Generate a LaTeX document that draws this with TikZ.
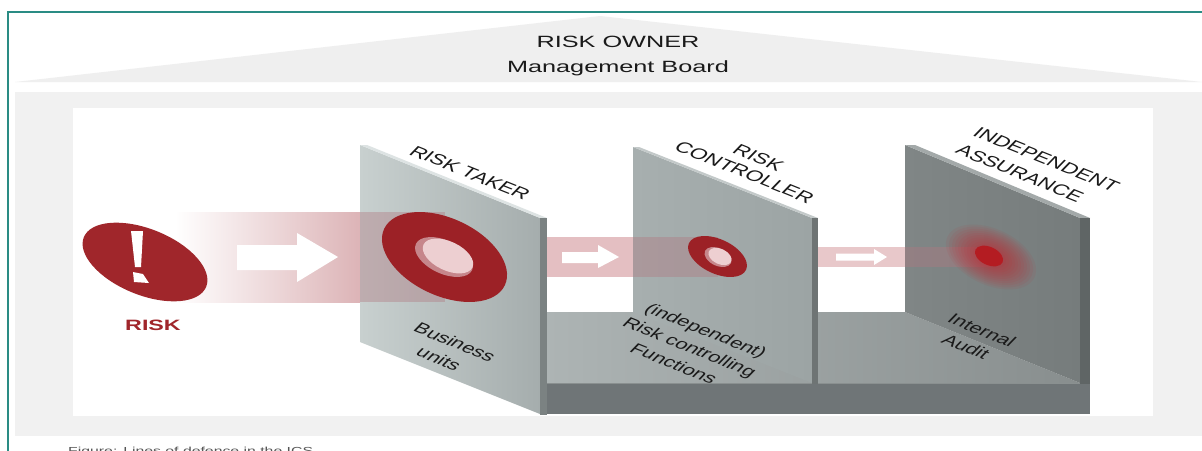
\documentclass[tikz,border=0pt]{standalone}
\usepackage{fontspec}
\setmainfont{Liberation Sans}
\usepackage{graphicx}
\newcommand{\mywide}[1]{\scalebox{1.55}[1]{#1}}
\newcommand{\mytilt}[1]{\scalebox{1.55}[1]{\rotatebox{-32}{#1}}}
\newcommand{\mylinesc}[1]{\begin{tabular}{@{}c@{}}#1\end{tabular}}
\newcommand{\mylinesl}[1]{\begin{tabular}{@{}l@{}}#1\end{tabular}}
\definecolor{teal1}{HTML}{2A8C84}
\definecolor{roofgray}{HTML}{EFEFEF}
\definecolor{panelgray}{HTML}{F1F1F1}
\definecolor{riskred}{HTML}{A0262B}
\definecolor{ringred}{HTML}{9C2126}
\definecolor{holelight}{HTML}{EDCFD1}
\definecolor{holedark}{HTML}{C6868B}
\definecolor{beamA}{HTML}{DCB3B6}
\definecolor{beamB}{HTML}{E4BFC2}
\definecolor{beamC}{HTML}{E8C8CA}
\definecolor{beamover}{HTML}{B07880}
\definecolor{wAl}{HTML}{C8D0CF}
\definecolor{wAr}{HTML}{A5ADAD}
\definecolor{wAtop}{HTML}{DDE3E3}
\definecolor{wAside}{HTML}{7B8282}
\definecolor{wBl}{HTML}{A7AFAF}
\definecolor{wBr}{HTML}{9CA4A4}
\definecolor{wBtop}{HTML}{C3C9C9}
\definecolor{wBside}{HTML}{6E7474}
\definecolor{wCl}{HTML}{808686}
\definecolor{wCr}{HTML}{767C7C}
\definecolor{wCtop}{HTML}{A3A9A9}
\definecolor{wCside}{HTML}{5F6565}
\definecolor{floorl}{HTML}{ADB4B4}
\definecolor{floorr}{HTML}{888E8E}
\definecolor{basegray}{HTML}{6F7577}
\definecolor{basetop}{HTML}{8A9090}
\definecolor{glowred}{HTML}{C8202A}
\definecolor{dotred}{HTML}{B41C22}
\definecolor{labelink}{HTML}{1A1A1A}
\definecolor{captiongray}{HTML}{555555}
\begin{document}
\begin{tikzpicture}[x=1pt,y=-1pt,
  lbl/.style={inner sep=0pt, text=labelink},
  toplbl/.style={lbl, font=\fontsize{15}{17}\selectfont},
  lowlbl/.style={lbl, font=\fontsize{14.5}{19.5}\selectfont},
  arrowfill/.style={fill=white},
  overlay beam/.style={fill=beamover, fill opacity=0.4}]
\useasboundingbox (0,0) rectangle (1202,450);
\clip (0,0) rectangle (1202,450);
\fill[white] (0,0) rectangle (1202,450);
% roof and panel
\fill[roofgray] (15,82) -- (600,16) -- (1202,82) -- cycle;
\fill[panelgray] (15,92) rectangle (1202,436);
\fill[white] (73,108) rectangle (1153,416);
% border
\draw[teal1, line width=2pt] (8,452) -- (8,12) -- (1204,12);
% titles
\node[lbl, font=\fontsize{16.3}{19}\selectfont] (owner) at (618,42) {\mywide{RISK OWNER}};
\node[lbl, font=\fontsize{16.3}{19}\selectfont] (board) at (618,68) {\mywide{Management Board}};

% beam 1
\shade[left color=white, right color=beamA] (175,212) rectangle (362,302);
% risk ellipse
\fill[riskred] (145,262) ellipse [x radius=66pt, y radius=33pt, rotate=-22];
\fill[white] (131,231) -- (143,231) -- (141,267) -- (135,267) -- cycle;
\fill[white] (133,272) -- (143,274) -- (149,283) -- (134,282) -- cycle;
\node[inner sep=0pt, text=riskred, font=\bfseries\fontsize{15}{17}\selectfont] (risk) at (153,325) {\mywide{RISK}};
% arrow 1
\fill[arrowfill] (237,245) -- (297,245) -- (297,233) -- (338,257) -- (297,282) -- (297,270) -- (237,270) -- cycle;

% floor and base
\shade[left color=floorl, right color=floorr] (547,312) -- (905,312) -- (1080,383) -- (547,383) -- cycle;
\fill[basegray] (540,383) rectangle (1090,414);
\draw[basetop, line width=1pt] (547,383.5) -- (1090,383.5);

% wall 1
\shade[left color=wAl, right color=wAr] (360,145) -- (540,218) -- (540,414) -- (360,342) -- cycle;
\fill[wAtop] (360,145) -- (367,145) -- (547,218) -- (540,218) -- cycle;
\fill[wAside] (540,218) rectangle (547,415);
\fill[overlay beam] (360,212) rectangle (445,302);
% ring 1
\fill[ringred] (444.5,257) ellipse [x radius=66.6pt, y radius=38.7pt, rotate=-25];
\fill[holedark] (444,257) ellipse [x radius=31pt, y radius=16.6pt, rotate=-25];
\fill[holelight] (448,256) ellipse [x radius=27pt, y radius=14.5pt, rotate=-25];

% beam 2
\fill[beamB] (547,237) rectangle (633,277);
\fill[arrowfill] (562,252) -- (598,252) -- (598,245) -- (619,257) -- (598,268) -- (598,263) -- (562,263) -- cycle;

% wall 2
\shade[left color=wBl, right color=wBr] (633,147) -- (812,218) -- (812,383) -- (633,312) -- cycle;
\fill[wBtop] (633,147) -- (639,147) -- (818,218) -- (812,218) -- cycle;
\fill[wBside] (812,218) rectangle (818,384);
\fill[overlay beam] (633,237) rectangle (718,277);
% ring 2
\fill[ringred] (717.5,256.5) ellipse [x radius=31.5pt, y radius=17.2pt, rotate=-25];
\fill[holedark] (718,257) ellipse [x radius=14.3pt, y radius=8.8pt, rotate=-25];
\fill[holelight] (720,256.5) ellipse [x radius=12.3pt, y radius=7.6pt, rotate=-25];

% beam 3
\fill[beamC] (818,247) rectangle (905,267);
\fill[arrowfill] (836,253.5) -- (874,253.5) -- (874,249) -- (887,257) -- (874,265) -- (874,260.5) -- (836,260.5) -- cycle;

% wall 3
\shade[left color=wCl, right color=wCr] (905,145) -- (1080,218) -- (1080,383) -- (905,312) -- cycle;
\fill[wCtop] (905,145) -- (915,145) -- (1090,218) -- (1080,218) -- cycle;
\fill[wCside] (1080,218) rectangle (1090,384);
\fill[overlay beam] (905,247) rectangle (990,267);
% glow and dot
\foreach \k in {0,...,11}{
  \fill[glowred, fill opacity=0.07] (991,257) ellipse [x radius={48pt-3.2pt*\k}, y radius={28pt-1.8pt*\k}, rotate=-25];
}
\fill[dotred] (989,256) ellipse [x radius=15pt, y radius=9pt, rotate=-25];

% wall labels
\node[toplbl] (taker) at (470,173) {\mytilt{RISK TAKER}};
\node[toplbl] (ctrl) at (750,166.5) {\mytilt{\mylinesc{RISK\\CONTROLLER}}};
\node[toplbl, font=\fontsize{15}{21}\selectfont] (indep) at (1037,169) {\mytilt{\mylinesl{INDEPENDENT\\ASSURANCE}}};
% lower labels
\node[lowlbl] (bus) at (446,351.5) {\mytilt{\mylinesc{Business\\units}}};
\node[lowlbl] (rcf) at (689,348) {\mytilt{\mylinesc{(independent)\\Risk controlling\\Functions}}};
\node[lowlbl] (ia) at (973,339.5) {\mytilt{\mylinesc{Internal\\Audit}}};

% caption
\node[anchor=base west, inner sep=0pt, text=captiongray, font=\fontsize{10.2}{12}\selectfont] (caption) at (68,454) {\mywide{Figure: Lines of defence in the ICS}};
\end{tikzpicture}
\end{document}
